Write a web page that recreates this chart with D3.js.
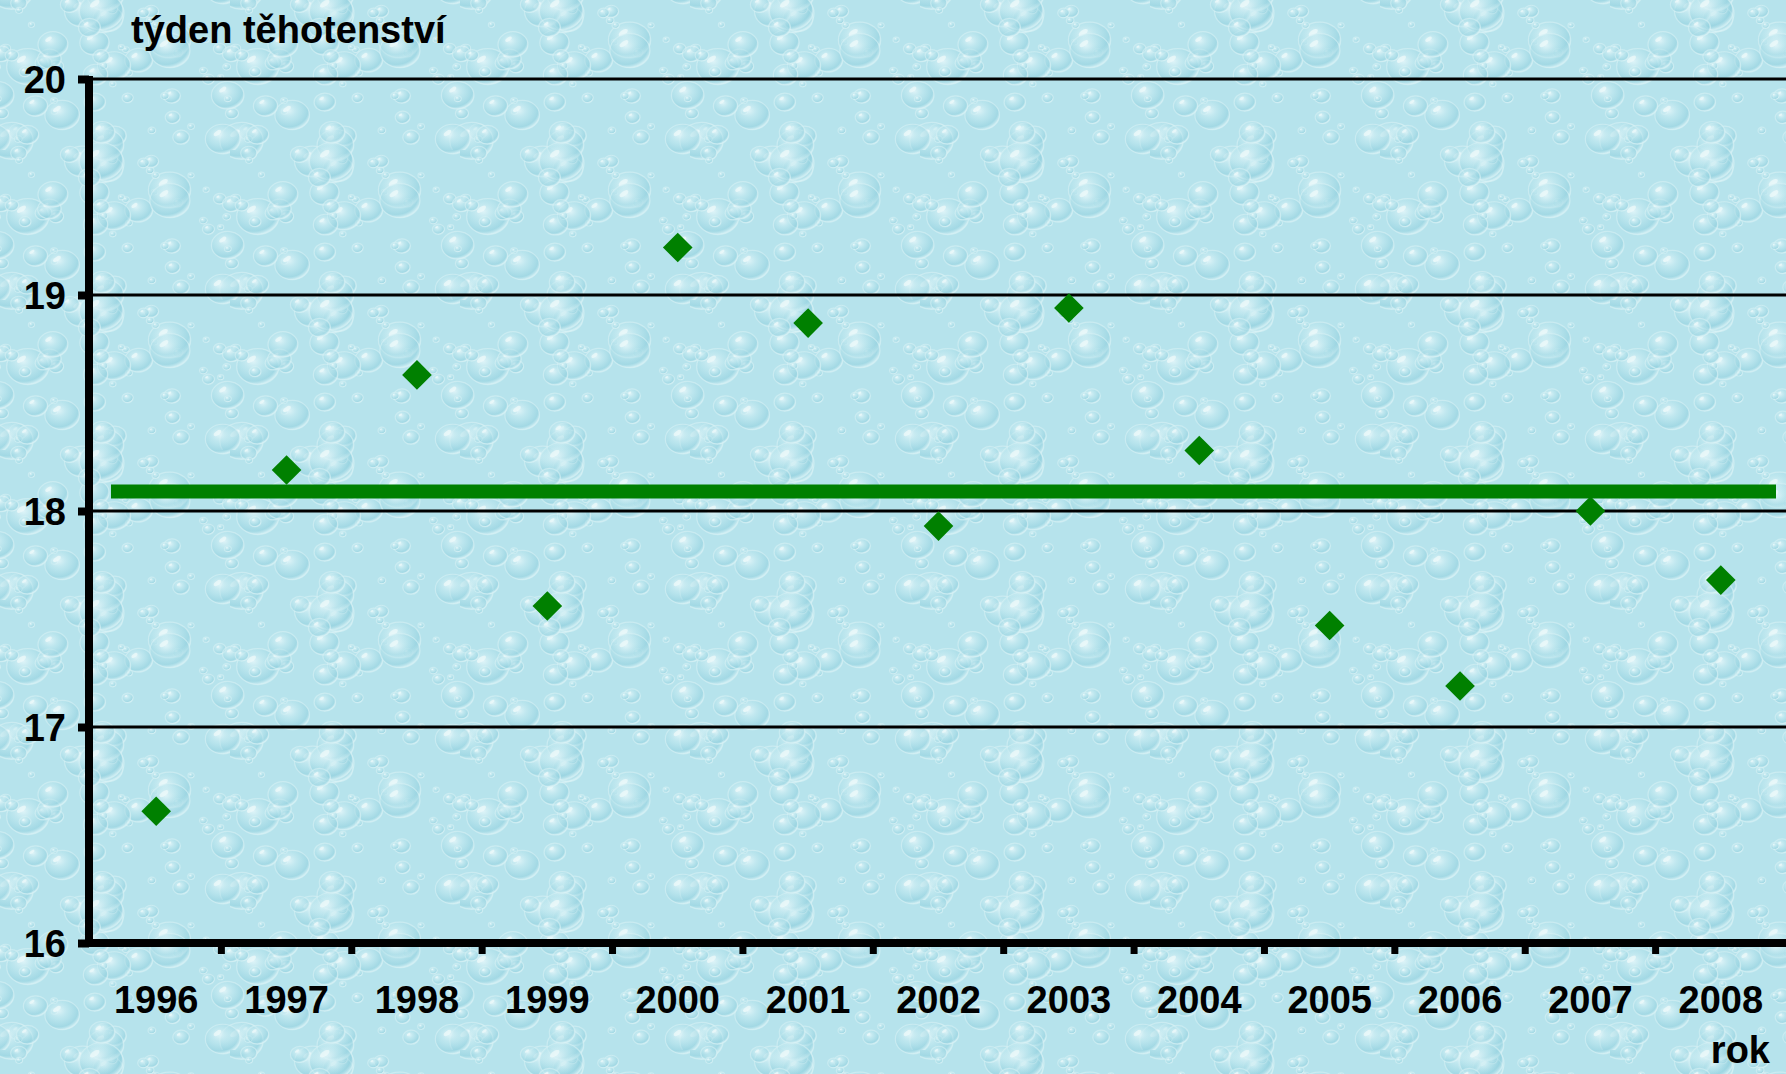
<!DOCTYPE html>
<html>
<head>
<meta charset="utf-8">
<script src="https://cdn.jsdelivr.net/npm/d3@7"></script>
<style>
html,body{margin:0;padding:0;background:#b3e1ea;}
svg{display:block;}
text{font-family:"Liberation Sans",Arial,sans-serif;font-weight:bold;fill:#000;}
</style>
</head>
<body>
<svg id="chart" width="1786" height="1074"></svg>
<script>
// ---- data ----
const years = ["1996","1997","1998","1999","2000","2001","2002","2003","2004","2005","2006","2007","2008"];
const weeks = [16.61,18.19,18.63,17.56,19.22,18.87,17.93,18.94,18.28,17.47,17.19,18.00,17.68];
const meanWeek = [18.09];
const yTicks = [16,17,18,19,20];
const yTitle = "týden těhotenství";
const xTitle = "rok";

const W = 1786, H = 1074;
const svg = d3.select("#chart");

// ---- background texture (decorative water drops) ----
const defs = svg.append("defs");
const g1 = defs.append("radialGradient").attr("id","drop").attr("cx","40%").attr("cy","35%").attr("r","65%");
g1.append("stop").attr("offset","0%").attr("stop-color","#e6f7fa").attr("stop-opacity",0.85);
g1.append("stop").attr("offset","45%").attr("stop-color","#bce6ee").attr("stop-opacity",0.5);
g1.append("stop").attr("offset","85%").attr("stop-color","#92d0de").attr("stop-opacity",0.55);
g1.append("stop").attr("offset","100%").attr("stop-color","#d8f2f6").attr("stop-opacity",0.7);
const pat = defs.append("pattern").attr("id","bgpat").attr("patternUnits","userSpaceOnUse")
  .attr("width",230).attr("height",150);
pat.append("rect").attr("width",230).attr("height",150).attr("fill","#b6e3ec");
let s = 7;
function rnd(){ s = (s*9301+49297)%233280; return s/233280; }
for(let i=0;i<70;i++){
  const cx = rnd()*230, cy = rnd()*150, r = 3 + Math.pow(rnd(),2.2)*20;
  [[0,0],[230,0],[0,150],[230,150],[-230,0],[0,-150]].forEach(([dx,dy])=>{
    pat.append("ellipse").attr("cx",cx+dx).attr("cy",cy+dy).attr("rx",r).attr("ry",r*0.85)
      .attr("fill","url(#drop)").attr("stroke","#d9f1f5").attr("stroke-opacity",0.6).attr("stroke-width",1.2);
    pat.append("ellipse").attr("cx",cx+dx-r*0.3).attr("cy",cy+dy-r*0.35).attr("rx",r*0.25).attr("ry",r*0.12)
      .attr("fill","#f2fbfc").attr("opacity",0.7).attr("transform",`rotate(-35 ${cx+dx-r*0.3} ${cy+dy-r*0.35})`);
  });
}
svg.append("rect").attr("width",W).attr("height",H).attr("fill","url(#bgpat)");

// ---- scales ----
const plot = {left:89, right:1786, top:79, bottom:943};
const x = d3.scaleBand().domain(years).range([plot.left+2, plot.right]).paddingInner(0).paddingOuter(0);
const y = d3.scaleLinear().domain([16,20]).range([plot.bottom, plot.top]);

// gridlines
svg.append("g").selectAll("line").data(yTicks.filter(d=>d>16)).join("line")
  .attr("x1",plot.left).attr("x2",plot.right)
  .attr("y1",d=>y(d)).attr("y2",d=>y(d))
  .attr("stroke","#000").attr("stroke-width",3);

// mean line
svg.append("g").selectAll("line").data(meanWeek).join("line")
  .attr("x1",x(years[0])+20).attr("x2",plot.right-10)
  .attr("y1",d=>y(d)).attr("y2",d=>y(d))
  .attr("stroke","#008000").attr("stroke-width",14);

// y axis
const yAxis = d3.axisLeft(y).tickValues(yTicks).tickSize(11).tickPadding(12).tickFormat(d3.format("d"));
const gy = svg.append("g").attr("transform",`translate(${plot.left},0)`).call(yAxis);
gy.select(".domain").remove();
gy.selectAll(".tick line").attr("stroke","#000").attr("stroke-width",8);
gy.selectAll(".tick text").style("font-size","38px").attr("dy","0.35em");
svg.append("line").attr("x1",plot.left).attr("x2",plot.left).attr("y1",plot.top-3).attr("y2",plot.bottom+4)
  .attr("stroke","#000").attr("stroke-width",8);

// x axis
const xAxis = d3.axisBottom(x).tickSize(0).tickPadding(43);
const gx = svg.append("g").attr("transform",`translate(0,${plot.bottom})`).call(xAxis);
gx.select(".domain").remove();
gx.selectAll(".tick text").style("font-size","38px");
// x tick marks at category boundaries
svg.append("g").selectAll("line").data(years.slice(1)).join("line")
  .attr("x1",d=>x(d)).attr("x2",d=>x(d))
  .attr("y1",plot.bottom).attr("y2",plot.bottom+11)
  .attr("stroke","#000").attr("stroke-width",7);
svg.append("line").attr("x1",plot.left-4).attr("x2",plot.right).attr("y1",plot.bottom).attr("y2",plot.bottom)
  .attr("stroke","#000").attr("stroke-width",8);

// diamonds
svg.append("g").selectAll("path").data(years.map((yr,i)=>({yr,v:weeks[i]}))).join("path")
  .attr("d", d3.symbol().type(d3.symbolDiamond2).size(560))
  .attr("transform",d=>`translate(${x(d.yr)+x.bandwidth()/2},${y(d.v)})`)
  .attr("fill","#008000");

// titles
svg.append("text").attr("x",131).attr("y",43).style("font-size","38px").text(yTitle);
svg.append("text").attr("x",1770).attr("y",1063).attr("text-anchor","end").style("font-size","38px").text(xTitle);
</script>
</body>
</html>
